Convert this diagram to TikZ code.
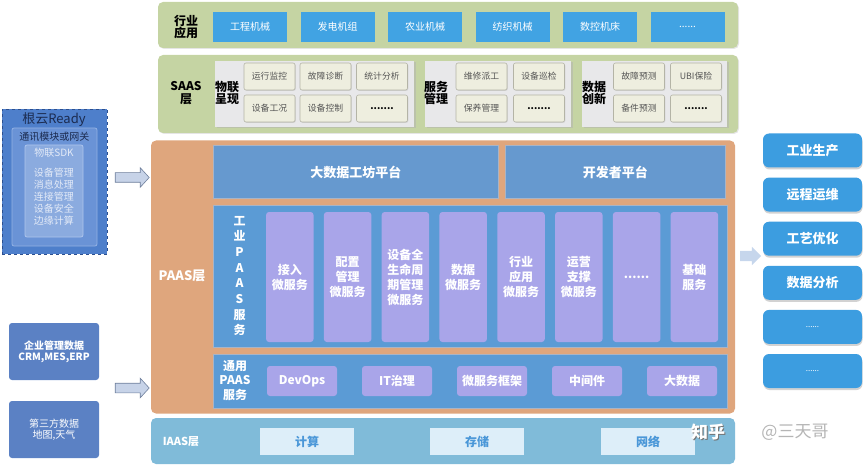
\documentclass[tikz,border=0pt]{standalone}
\usepackage{fontspec}
\setmainfont{Noto Sans CJK SC}
\usetikzlibrary{shapes.arrows,shadows}
\newcommand\mydots{......}
\definecolor{bandgreen}{HTML}{C5D4A3}
\definecolor{topblue}{HTML}{41A3E3}
\definecolor{panelgray}{HTML}{E8E8EA}
\definecolor{itemfill}{HTML}{EEEEDF}
\definecolor{itemdraw}{HTML}{B4B4A6}
\definecolor{itemtext}{HTML}{555555}
\definecolor{rootblue}{HTML}{4E7FCB}
\definecolor{rootdash}{HTML}{2C4F8F}
\definecolor{gwblue}{HTML}{6A93D6}
\definecolor{gwdraw}{HTML}{93B2E4}
\definecolor{sdkblue}{HTML}{8BABDF}
\definecolor{sdkdraw}{HTML}{AEC5EC}
\definecolor{darknavy}{HTML}{1B2B4F}
\definecolor{sdktext}{HTML}{E3EAF7}
\definecolor{datablue}{HTML}{5B81C4}
\definecolor{arrowfill}{HTML}{C7D3E8}
\definecolor{arrowdraw}{HTML}{6F7F9C}
\definecolor{paasorange}{HTML}{DFA67D}
\definecolor{platblue}{HTML}{6699CF}
\definecolor{platdraw}{HTML}{A9B4C6}
\definecolor{panelblue}{HTML}{5B9BD5}
\definecolor{purple}{HTML}{A9A5E9}
\definecolor{iaasblue}{HTML}{80BBD9}
\definecolor{iaasbox}{HTML}{DDEEF9}
\definecolor{iaastext}{HTML}{4A97D8}
\definecolor{rightblue}{HTML}{3C9DE0}
\definecolor{rarrow}{HTML}{C6D6EC}
\definecolor{wmgray}{HTML}{B5B5B5}
\begin{document}
\begin{tikzpicture}[x=1pt,y=-1pt,
  every node/.style={inner sep=0pt, outer sep=0pt, align=center},
  sz/.style 2 args={minimum width=#1pt, minimum height=#2pt},
  band/.style={rectangle, rounded corners=5pt, fill=bandgreen,
    drop shadow={shadow xshift=1pt,shadow yshift=-1pt,fill=black!20}},
  lbl/.style={font=\fontsize{12pt}{12.5pt}\selectfont\bfseries, text=black},
  topbox/.style={rectangle, fill=topblue, sz={74}{30}, text=white,
    font=\fontsize{10pt}{12pt}\selectfont},
  spanel/.style={rectangle, fill=panelgray,
    drop shadow={shadow xshift=1.5pt,shadow yshift=-1.5pt,fill=black!30}},
  sitem/.style={rectangle, rounded corners=2pt, fill=itemfill, draw=itemdraw, line width=0.6pt,
    sz={51}{27}, text=itemtext, font=\fontsize{8.8pt}{10pt}\selectfont,
    drop shadow={shadow xshift=0.8pt,shadow yshift=-0.8pt,fill=black!25}},
  sdots/.style={sitem, text=black, font=\fontsize{9.5pt}{10pt}\selectfont\bfseries},
  datab/.style={rectangle, rounded corners=3pt, fill=datablue, sz={90}{57}, text=white,
    font=\fontsize{10pt}{11pt}\selectfont},
  barrow/.style={single arrow, draw=arrowdraw, fill=arrowfill, line width=0.6pt,
    minimum height=34pt, minimum width=19pt, inner ysep=4.5pt, inner xsep=0pt,
    single arrow head extend=5pt, single arrow tip angle=95},
  plat/.style={rectangle, fill=platblue, draw=platdraw, line width=1pt, text=white,
    font=\fontsize{13pt}{15pt}\selectfont\bfseries},
  bpanel/.style={rectangle, fill=panelblue, draw=platdraw, line width=1pt},
  col/.style={rectangle, rounded corners=3pt, fill=purple, sz={47.5}{130}, text=white,
    font=\fontsize{12pt}{15pt}\selectfont\bfseries},
  gbox/.style={rectangle, rounded corners=3pt, fill=purple, sz={70}{30}, text=white,
    font=\fontsize{12pt}{14pt}\selectfont\bfseries},
  ibox/.style={rectangle, fill=iaasbox, sz={94}{27}, text=iaastext,
    font=\fontsize{12pt}{14pt}\selectfont\bfseries},
  rbox/.style={rectangle, rounded corners=6pt, fill=rightblue, sz={99}{34}, text=white,
    font=\fontsize{13pt}{15pt}\selectfont\bfseries,
    drop shadow={shadow xshift=0.5pt,shadow yshift=-2pt,fill=black!35}},
  wlbl/.style={text=white, font=\fontsize{13pt}{15pt}\selectfont\bfseries}
]
\useasboundingbox (0,0) rectangle (865,468);

% ---------- industry application band ----------
\node[band, sz={580}{46}] (ind) at (448,25) {};
\node[lbl] (indl) at (186,27) {行业\\应用};
\foreach \t [count=\i] in {工程机械,发电机组,农业机械,纺织机械,数控机床,\mydots}
  \node[topbox] (t\i) at ({250+87.5*(\i-1)},27) {\t};

% ---------- SAAS band ----------
\node[band, sz={580}{78}] (saas) at (448,94) {};
\node[lbl] (saasl) at (186,93) {SAAS\\层};
\node[spanel, sz={199}{66}] (p1) at (314.5,94) {};
\node[spanel, sz={146}{66}] (p2) at (498,94) {};
\node[spanel, sz={145}{66}] (p3) at (654.5,94) {};
\node[lbl] (p1l) at (227,93) {物联\\呈现};
\node[lbl] (p2l) at (436,93) {服务\\管理};
\node[lbl] (p3l) at (594,93) {数据\\创新};
\node[sitem] (s11) at (269.5,76.5) {运行监控};
\node[sitem] (s12) at (325.5,76.5) {故障诊断};
\node[sitem] (s13) at (382,76.5) {统计分析};
\node[sitem] (s14) at (269.5,108.5) {设备工况};
\node[sitem] (s15) at (325.5,108.5) {设备控制};
\node[sdots] (s16) at (382,108.5) {.......};
\node[sitem] (s21) at (481.5,76.5) {维修派工};
\node[sitem] (s22) at (539,76.5) {设备巡检};
\node[sitem] (s23) at (481.5,108.5) {保养管理};
\node[sdots] (s24) at (539,108.5) {.......};
\node[sitem] (s31) at (639,76.5) {故障预测};
\node[sitem] (s32) at (696,76.5) {UBI保险};
\node[sitem] (s33) at (639,108.5) {备件预测};
\node[sdots] (s34) at (696,108.5) {.......};

% ---------- left side ----------
\node[rectangle, fill=rootblue, draw=rootdash, dashed, line width=0.8pt, sz={105}{145}] (root) at (54.5,181.5) {};
\node[rectangle, rounded corners=2pt, fill=gwblue, draw=gwdraw, line width=0.8pt, sz={85}{118}] (gw) at (54.5,187) {};
\node[rectangle, rounded corners=2pt, fill=sdkblue, draw=sdkdraw, line width=0.8pt, sz={58}{92}] (sdk) at (54,191) {};
\node[text=darknavy, font=\fontsize{13pt}{15pt}\selectfont] (rootl) at (54,120) {根云Ready};
\node[text=darknavy, font=\fontsize{10pt}{12pt}\selectfont] (gwl) at (54.5,137) {通讯模块或网关};
\node[text=sdktext, font=\fontsize{10pt}{11pt}\selectfont] (sdkl) at (54,153) {物联SDK};
\node[text=sdktext, font=\fontsize{10pt}{12pt}\selectfont] (sdkf) at (54,197) {设备管理\\消息处理\\连接管理\\设备安全\\边缘计算};
\node[datab, font=\fontsize{10pt}{11pt}\selectfont\bfseries] (erp) at (54,351.5) {企业管理数据\\CRM,MES,ERP};
\node[datab] (third) at (54,429.5) {第三方数据\\地图,天气};
\node[barrow] (a1) at (130,177.5) {};
\node[barrow] (a2) at (130,388) {};

% ---------- PAAS ----------
\node[rectangle, rounded corners=5pt, fill=paasorange, sz={584}{273}] (paas) at (443,277) {};
\node[wlbl] (paasl) at (182,276) {PAAS层};
\node[plat, sz={285.6}{53}] (bigdata) at (355.8,172) {大数据工坊平台};
\node[plat, sz={220.6}{53}] (dev) at (615.3,172) {开发者平台};
\node[bpanel, sz={514}{142}] (ipaas) at (470,276) {};
\node[wlbl, font=\fontsize{12pt}{15.7pt}\selectfont\bfseries] (ipaasl) at (239.5,276) {工\\业\\P\\A\\A\\S\\服\\务};
\foreach \t [count=\i] in {接入\\微服务,配置\\管理\\微服务,{\fontsize{12pt}{13.5pt}\selectfont 设备全\\生命周\\期管理\\微服务},数据\\微服务,行业\\应用\\微服务,运营\\支撑\\微服务,\mydots,基础\\服务}
  \node[col] (c\i) at ({289.8+57.8*(\i-1)},277) {\t};
\node[bpanel, sz={514}{54}] (gpaas) at (470,381) {};
\node[wlbl, font=\fontsize{12pt}{14.5pt}\selectfont\bfseries] (gpaasl) at (235,380.5) {通用\\PAAS\\服务};
\foreach \t [count=\i] in {DevOps,IT治理,微服务框架,中间件,大数据}
  \node[gbox] (g\i) at ({302+95*(\i-1)},381) {\t};

% ---------- IAAS ----------
\node[rectangle, rounded corners=5pt, fill=iaasblue, sz={584}{46}] (iaas) at (443,441) {};
\node[wlbl, font=\fontsize{11pt}{13pt}\selectfont\bfseries] (iaasl) at (181,442) {IAAS层};
\node[ibox] (i1) at (307,441.5) {计算};
\node[ibox] (i2) at (477,441.5) {存储};
\node[ibox] (i3) at (648,441.5) {网络};

% ---------- right side ----------
\foreach \t [count=\i] in {工业生产,远程运维,工艺优化,数据分析,{\fontsize{8pt}{10pt}\selectfont\mdseries\mydots},{\fontsize{8pt}{10pt}\selectfont\mdseries\mydots}}
  \node[rbox] (r\i) at (812.5,{150.5+44.1*(\i-1)}) {\t};
\node[single arrow, fill=rarrow, minimum height=21pt, minimum width=18pt, inner ysep=5pt, inner xsep=0pt,
  single arrow head extend=4pt, single arrow tip angle=90] (a3) at (748,256) {};

% ---------- watermark ----------
\node[text=black!55, font=\fontsize{17pt}{19pt}\selectfont\bfseries] (wm0) at (709.2,433.2) {知乎};
\node[text=white, font=\fontsize{17pt}{19pt}\selectfont\bfseries] (wm1) at (708,432) {知乎};
\node[text=wmgray, font=\fontsize{17pt}{19pt}\selectfont] (wm2) at (795,432) {@三天哥};
\end{tikzpicture}
\end{document}
